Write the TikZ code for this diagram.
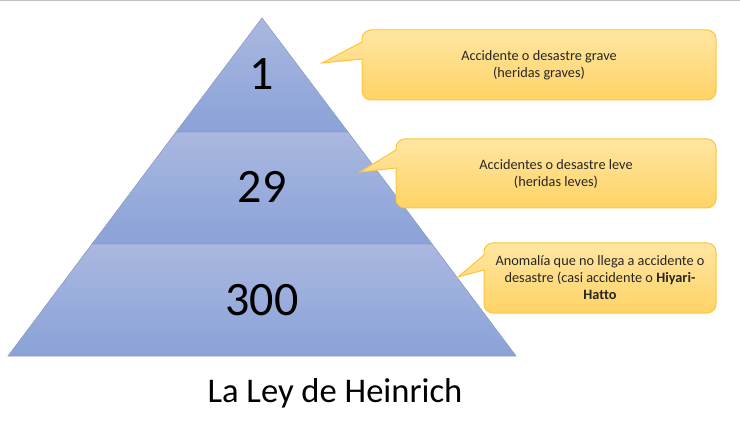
\documentclass[tikz,border=0pt]{standalone}
\usepackage{fontspec}
\setmainfont{Carlito}[Ligatures=CommonOff]
\begin{document}
\begin{tikzpicture}[x=1pt,y=-1pt,
  layer/.style={top color=pyrtop,bottom color=pyrbot,draw=pyredge,line width=0.6pt},
  callout/.style={top color=caltop,bottom color=calbot,draw=caledge,line width=1pt},
  num/.style={font=\fontsize{48}{56}\selectfont,text=black},
  boxtext/.style={font=\fontsize{14.3}{17}\selectfont,align=center,text=black!85},
  title/.style={font=\fontsize{34.6}{40}\selectfont,text=black}]
\definecolor{pyrtop}{HTML}{AAB8E0}
\definecolor{pyrbot}{HTML}{8AA2D8}
\definecolor{pyredge}{HTML}{8E9BC0}
\definecolor{caltop}{HTML}{FFE6A2}
\definecolor{calbot}{HTML}{FFD366}
\definecolor{caledge}{HTML}{FFC53A}
\definecolor{topline}{HTML}{BFBFBF}
\useasboundingbox (0,0) rectangle (740,425);
\fill[white] (0,0) rectangle (740,425);
\draw[topline,line width=1.5pt] (0,0.75) -- (740,0.75);
% pyramid layers
\shade[layer] (262,18) -- (348,132) -- (176,132) -- cycle;
\shade[layer] (176,132) -- (348,132) -- (432,244) -- (92,244) -- cycle;
\shade[layer] (92,244) -- (432,244) -- (516,356) -- (8,356) -- cycle;
\node[num] (n1) at (262,74) {1};
\node[num] (n29) at (262,187) {29};
\node[num] (n300) at (262,300) {300};
% callouts
\shade[callout] (362,59) -- (322,63) -- (362,42) [rounded corners=9pt] -- (362,30) -- (716,30) -- (716,100) -- (362,100) [sharp corners] -- cycle;
\shade[callout] (396,168) -- (360,172) -- (396,150) [rounded corners=9pt] -- (396,139) -- (716,139) -- (716,208) -- (396,208) [sharp corners] -- cycle;
\shade[callout] (484,270) -- (458,277) -- (484,255) [rounded corners=9pt] -- (484,243) -- (716,243) -- (716,313) -- (484,313) [sharp corners] -- cycle;
\node[boxtext] (t1) at (539,65) {Accidente o desastre grave\\(heridas graves)};
\node[boxtext] (t2) at (556,174) {Accidentes o desastre leve\\(heridas leves)};
\node[boxtext] (t3) at (600,278) {Anomalía que no llega a accidente o\\desastre (casi accidente o \textbf{Hiyari-}\\\textbf{Hatto}};
\node[title] (title) at (335,393) {La Ley de Heinrich};
\end{tikzpicture}
\end{document}
